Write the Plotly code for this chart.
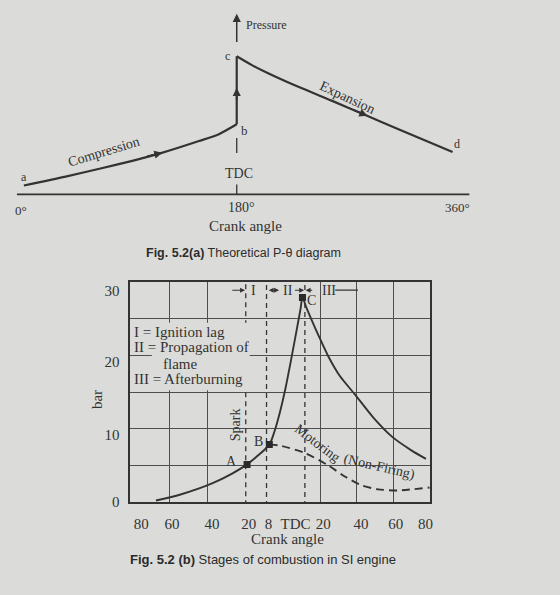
import plotly.graph_objects as go

# ---------------- Fig. 5.2(a): theoretical P-theta diagram ----------------
comp_angle = [2.5, 37.3, 65.5, 92.9, 116.1, 148.5, 165.1, 180]
comp_p = [9, 18, 26, 34, 41.5, 54, 61, 71]
exp_angle = [180, 192.7, 209.3, 231.4, 259.1, 286.8, 314.4, 360]
exp_p = [140, 131, 121, 109, 95, 80.7, 66.3, 43]
top_tick_text = ["0°", "180°", "360°"]

# ---------------- Fig. 5.2(b): stages of combustion ----------------
fired_x = [-66.3, -54.0, -36.3, -25.6, -17.6, -5.7, -3.0, 0.0, 3.0, 6.0, 9.0, 11.0, 12.0,
           14.0, 17.0, 21.0, 26.0, 32.0, 40.0, 50.0, 60.0, 70.0, 78.0]
fired_p = [0.23, 0.98, 2.56, 3.9, 5.15, 7.85, 9.6, 12.3, 15.6, 19.5, 23.6, 26.4, 27.9,
           26.6, 24.8, 22.5, 19.8, 17.2, 14.7, 11.5, 8.9, 7.1, 5.9]
motor_x = [-5.7, 0.1, 13.4, 25.8, 34.7, 43.5, 52.4, 63.0, 80]
motor_p = [7.85, 7.7, 6.7, 5.0, 3.5, 2.3, 1.75, 1.6, 2.0]
point_names = ["A", "B", "C"]
point_x = [-17.6, -5.7, 12.0]
point_p = [5.15, 7.85, 27.9]
spark_x = -18.3
flame_start_x = -7.2
tdc_x = 13.3
x_tick_pos = [-74.2, -57.7, -36.4, -16.7, -6.1, 8.3, 23.1, 43.3, 61.9, 77.8]
x_tick_text = ["80", "60", "40", "20", "8", "TDC", "20", "40", "60", "80"]
x_grid = [-59.3, -38.5, 21.5, 40.7, 60.4]
y_tick_pos = [0, 9.2, 19.2, 28.8]
y_tick_text = ["0", "10", "20", "30"]
y_grid = [5, 10, 15, 20, 25]

INK = "#333333"
GRID = "#4e4e4e"
BG = "#dbdcd9"
SERIF = "Liberation Serif"
SANS = "Liberation Sans"

fig = go.Figure()

def line_trace(x, y, ax, width=2.0, dash=None, spline=False):
    ln = dict(color=INK, width=width)
    if dash:
        ln["dash"] = dash
    if spline:
        ln["shape"] = "spline"
        ln["smoothing"] = 0.7
    fig.add_trace(go.Scatter(x=x, y=y, mode="lines", line=ln, xaxis=ax[0], yaxis=ax[1],
                             showlegend=False, hoverinfo="skip"))

T = ("x", "y")
B = ("x2", "y2")

# top diagram path a-b, b-c, c-d
line_trace(comp_angle, comp_p, T, 2.2, spline=True)
line_trace([comp_angle[-1], exp_angle[0]], [comp_p[-1], exp_p[0]], T, 2.2)
line_trace(exp_angle, exp_p, T, 2.2, spline=True)
# crank-angle base line
line_trace([-3.3, 374], [0, 0], T, 1.6)
# TDC marks
line_trace([180, 180, None, 180, 180], [57, 42, None, 10, 0], T, 1.3)

# bottom chart: firing curve
line_trace(fired_x, fired_p, B, 1.9, spline=True)
# motoring
line_trace(motor_x, motor_p, B, 1.9, dash="8px,5px", spline=True)
# dashed stage lines
line_trace([spark_x, spark_x, None, flame_start_x, flame_start_x, None, tdc_x, tdc_x],
           [29.7, 0, None, 29.6, 0, None, 29.6, 0], B, 1.3, dash="5px,4px")
# points A B C
fig.add_trace(go.Scatter(x=point_x, y=point_p, mode="markers",
                         marker=dict(symbol="square", size=7, color="#2a2a2a"),
                         xaxis="x2", yaxis="y2", showlegend=False, hoverinfo="skip"))

# boxes hiding gridlines behind the key text
box_shapes = [
    dict(x0=-79.3, x1=-14.5, y0=20.4, y1=24.45),
    dict(x0=-79.3, x1=-14.5, y0=15.25, y1=19.6),
    dict(x0=-68.5, x1=-16.2, y0=19.5, y1=20.5),
]
shapes = []
for b in box_shapes:
    shapes.append(dict(type="rect", xref="x2", yref="y2", layer="above",
                       fillcolor=BG, line=dict(width=0), **b))
shapes.append(dict(type="line", xref="x2", yref="y2", x0=29.5, x1=41.7, y0=28.9, y1=28.9,
                   line=dict(color=INK, width=1.2)))

ann = []
def txt(x, y, s, size=14, ref=T, angle=0, xanchor="center", font=SERIF, color=INK):
    ann.append(dict(x=x, y=y, xref=ref[0], yref=ref[1], text=s, showarrow=False,
                    textangle=angle, xanchor=xanchor, yanchor="middle",
                    font=dict(family=font, size=size, color=color)))

def arrow(x, y, ax, ay, ref=T, width=1.5, head=2, size=1.0, side="end"):
    ann.append(dict(x=x, y=y, ax=ax, ay=ay, xref=ref[0], yref=ref[1],
                    axref=ref[0], ayref=ref[1], text="", showarrow=True,
                    arrowhead=head, arrowsize=size, arrowwidth=width, arrowcolor=INK,
                    arrowside=side, startarrowhead=head, startarrowsize=size))

def ptxt(px, py, s, size, font=SERIF, angle=0, color=INK):
    ann.append(dict(x=px / 560, y=(595 - py) / 595, xref="paper", yref="paper", showarrow=False,
                    text=s, textangle=angle, xanchor="center", yanchor="middle",
                    font=dict(family=font, size=size, color=color)))

# top diagram text
arrow(180, 183, 180, 153, width=1.5, head=2, size=1.1)
txt(185.8, 172, "Pressure", 12, xanchor="left")
txt(2.7, 18, "a", 12)
txt(186.4, 64.7, "b", 13)
txt(172.3, 140, "c", 12)
txt(363.6, 51.3, "d", 12)
txt(181.7, 21, "TDC", 14)
txt(-0.3, -16.3, top_tick_text[0], 13)
txt(183.6, -13.7, top_tick_text[1], 14)
txt(364, -13, top_tick_text[2], 13)
txt(187.7, -32.3, "Crank angle", 15)
txt(69.7, 43, "Compression", 14, angle=-17)
txt(272.3, 98.5, "Expansion", 14, angle=25)
arrow(118, 42.2, 104, 38.0, width=1.8, head=2, size=0.9)
arrow(289, 79.6, 276, 86.3, width=1.8, head=2, size=0.9)
arrow(180, 108, 180, 94, width=1.8, head=2, size=0.9)

ptxt(245, 256, "<b>Fig. 5.2(a)</b> Theoretical P-θ diagram", 12.5, font=SANS, color="#2c2c2c")

# bottom chart text
txt(-79, 23.15, "I = Ignition lag", 15, ref=B, xanchor="left")
txt(-79, 21.1, "II = Propagation of", 15, ref=B, xanchor="left")
txt(-63.5, 18.85, "flame", 15, ref=B, xanchor="left")
txt(-79, 16.8, "III = Afterburning", 15, ref=B, xanchor="left")
txt(-23.6, 10.6, "Spark", 14, ref=B, angle=-90)
txt(-25.8, 5.6, point_names[0], 14, ref=B)
txt(-11.4, 8.3, point_names[1], 14, ref=B)
txt(17.0, 27.5, point_names[2], 14, ref=B)
txt(20.3, 8.0, "Motoring", 14, ref=B, angle=37)
txt(53.0, 4.8, "(Non-Firing)", 14, ref=B, angle=13)
txt(-14.1, 28.9, "I", 14, ref=B)
txt(4.2, 28.9, "II", 14, ref=B)
txt(26.3, 28.9, "III", 14, ref=B)
arrow(spark_x - 0.4, 28.9, -26.3, 28.9, ref=B, width=1.1, head=2, size=0.9)
arrow(-0.5, 28.9, flame_start_x + 0.4, 28.9, ref=B, width=1.1, head=2, size=0.9, side="end+start")
arrow(tdc_x - 0.4, 28.9, 7.2, 28.9, ref=B, width=1.1, head=2, size=0.9)
arrow(tdc_x + 0.4, 28.9, 18.0, 28.9, ref=B, width=1.1, head=2, size=0.9)

ptxt(97, 405, "bar", 15, angle=-90)
ptxt(289, 546, "Crank angle", 15)
ptxt(264, 567, "<b>Fig. 5.2 (b)</b> Stages of combustion in SI engine", 13, font=SANS, color="#2a2a2a")

s_top = 1.2056
fig.update_layout(
    width=560, height=595, autosize=False,
    margin=dict(l=0, r=0, t=0, b=0),
    paper_bgcolor=BG, plot_bgcolor="rgba(0,0,0,0)",
    xaxis=dict(domain=[0, 1], range=[(0 - 21) / s_top, (560 - 21) / s_top], visible=False,
               fixedrange=True),
    yaxis=dict(domain=[1 - 270 / 595, 1], range=[-73, 197], visible=False, fixedrange=True),
    xaxis2=dict(domain=[131 / 560, 432 / 560], range=[-80, 80], anchor="y2",
                tickmode="array", tickvals=x_tick_pos, ticktext=x_tick_text, ticks="",
                ticklabelstandoff=7,
                showgrid=False, zeroline=False, showline=True, mirror=True,
                linecolor=INK, linewidth=1.8,
                tickfont=dict(family=SERIF, size=15, color=INK),
                minor=dict(tickmode="array", tickvals=x_grid, showgrid=True,
                           gridcolor=GRID, gridwidth=1.3, ticks="")),
    yaxis2=dict(domain=[(595 - 509) / 595, (595 - 286) / 595], range=[0, 30], anchor="x2",
                tickmode="array", tickvals=y_tick_pos, ticktext=y_tick_text, ticks="",
                ticklabelstandoff=6,
                showgrid=False, zeroline=False,
                showline=True, mirror=True, linecolor=INK, linewidth=1.8,
                tickfont=dict(family=SERIF, size=15, color=INK),
                minor=dict(tickmode="array", tickvals=y_grid, showgrid=True,
                           gridcolor=GRID, gridwidth=1.3, ticks="")),
    shapes=shapes,
    annotations=ann,
)

fig.write_html("out.html")
